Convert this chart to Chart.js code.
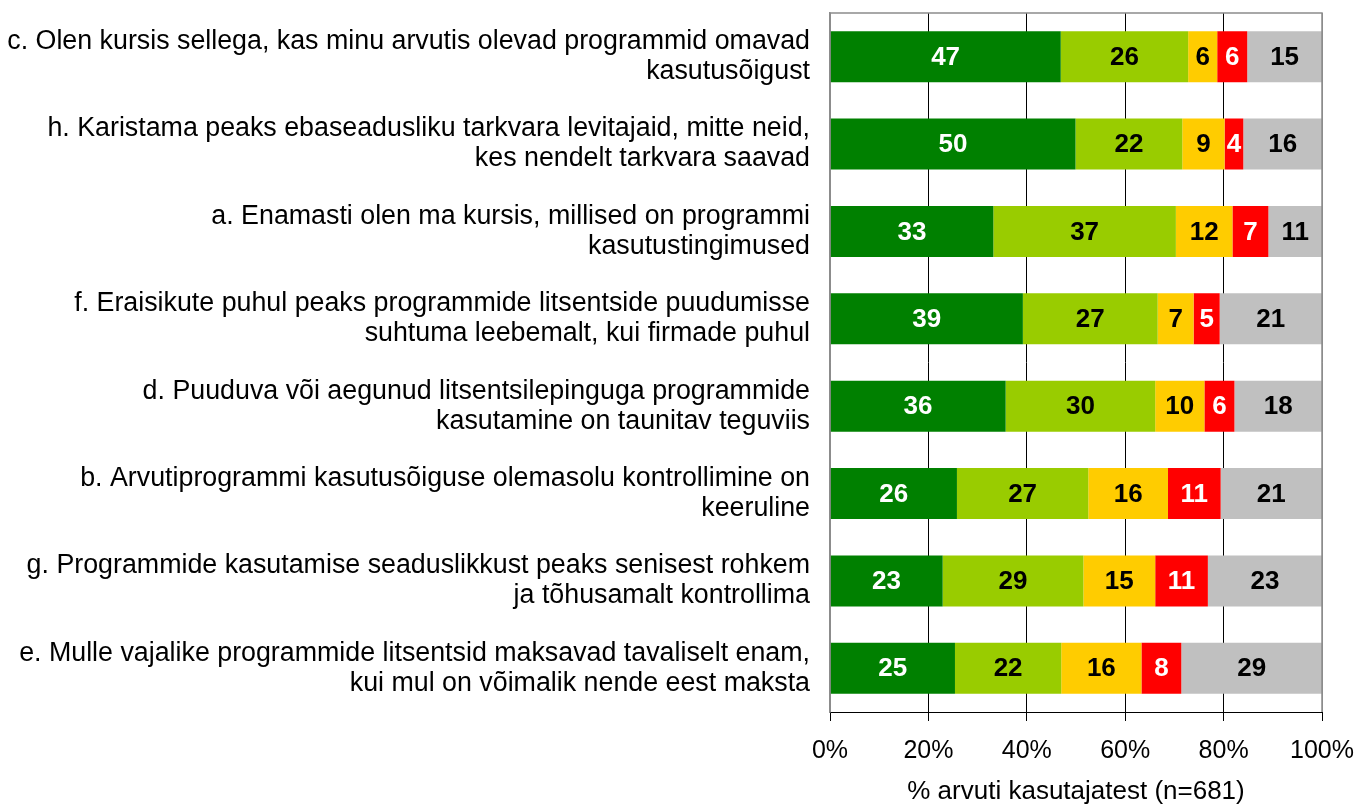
<!DOCTYPE html>
<html>
<head>
<meta charset="utf-8">
<script src="https://cdn.jsdelivr.net/npm/chart.js@4.4.1/dist/chart.umd.min.js"></script>
<style>
  html, body { margin: 0; padding: 0; background: #fff; }
</style>
</head>
<body>
<canvas id="chart" width="1359" height="805"></canvas>
<script>
const categories = [
  ["c. Olen kursis sellega, kas minu arvutis olevad programmid omavad", "kasutusõigust"],
  ["h. Karistama peaks ebaseadusliku tarkvara levitajaid, mitte neid,", "kes nendelt tarkvara saavad"],
  ["a. Enamasti olen ma kursis, millised on programmi", "kasutustingimused"],
  ["f. Eraisikute puhul peaks programmide litsentside puudumisse", "suhtuma leebemalt, kui firmade puhul"],
  ["d. Puuduva või aegunud litsentsilepinguga programmide", "kasutamine on taunitav teguviis"],
  ["b. Arvutiprogrammi kasutusõiguse olemasolu kontrollimine on", "keeruline"],
  ["g. Programmide kasutamise seaduslikkust peaks senisest rohkem", "ja tõhusamalt kontrollima"],
  ["e. Mulle vajalike programmide litsentsid maksavad tavaliselt enam,", "kui mul on võimalik nende eest maksta"]
];
const seriesNames = ["Täiesti nõus", "Pigem nõus", "Pigem ei ole nõus", "Üldse ei ole nõus", "Ei oska öelda"];
const fullyAgree    = [46.9, 49.9, 33.2, 39.2, 35.7, 25.8, 22.9, 25.4];
const ratherAgree   = [25.9, 21.7, 37.1, 27.4, 30.4, 26.7, 28.6, 21.6];
const ratherNot     = [5.9, 8.6, 11.5, 7.3, 10.0, 16.2, 14.6, 16.3];
const notAtAll      = [6.1, 3.8, 7.3, 5.3, 6.1, 10.7, 10.7, 8.1];
const cannotSay     = [15.2, 16.0, 10.9, 20.8, 17.8, 20.6, 23.2, 28.6];
const xTicks = [0, 20, 40, 60, 80, 100];

const colors = ["#008000", "#99CC00", "#FFCC00", "#FF0000", "#C0C0C0"];
const labelColors = ["#FFFFFF", "#000000", "#000000", "#FFFFFF", "#000000"];
const FONT = "'Liberation Sans', Arial, sans-serif";

// numbers in the middle of every segment
const segLabels = {
  id: "segLabels",
  afterDatasetsDraw(chart) {
    const ctx = chart.ctx;
    ctx.save();
    ctx.font = "bold 26px " + FONT;
    ctx.textAlign = "center";
    ctx.textBaseline = "middle";
    chart.data.datasets.forEach((ds, i) => {
      chart.getDatasetMeta(i).data.forEach((bar, j) => {
        ctx.fillStyle = labelColors[i];
        ctx.fillText(String(Math.round(ds.data[j])), (bar.x + bar.base) / 2, bar.y + 1);
      });
    });
    ctx.restore();
  }
};

// grey frame round the plot area
const frame = {
  id: "frame",
  afterDraw(chart) {
    const { ctx, chartArea: a } = chart;
    ctx.save();
    ctx.strokeStyle = "#8C8C8C";
    ctx.lineWidth = 1.5;
    ctx.beginPath();
    ctx.moveTo(a.left, a.bottom);
    ctx.lineTo(a.left, a.top);
    ctx.lineTo(a.right, a.top);
    ctx.lineTo(a.right, a.bottom);
    ctx.stroke();
    ctx.restore();
  }
};

const series = [fullyAgree, ratherAgree, ratherNot, notAtAll, cannotSay];

new Chart(document.getElementById("chart"), {
  type: "bar",
  data: {
    labels: categories,
    datasets: series.map((d, i) => ({
      label: seriesNames[i], data: d, backgroundColor: colors[i],
      barPercentage: 0.585, categoryPercentage: 1
    }))
  },
  options: {
    indexAxis: "y",
    responsive: false,
    animation: false,
    devicePixelRatio: 1,
    layout: { padding: { top: 13, right: 37, left: 0, bottom: 0 } },
    plugins: { legend: { display: false }, tooltip: { enabled: false } },
    scales: {
      x: {
        stacked: true, min: 0, max: 100,
        afterBuildTicks: s => { s.ticks = xTicks.map(v => ({ value: v })); },
        afterFit: s => { s.height = 93; s.paddingLeft = 0; s.paddingRight = 0; },
        ticks: { callback: v => v + "%", color: "#000", padding: 15, maxRotation: 0,
          font: { family: FONT, size: 25 } },
        grid: {
          color: c => (c.tick && (c.tick.value === 0 || c.tick.value === 100)) ? "#8C8C8C" : "#000",
          tickColor: "#000", tickLength: 9, lineWidth: 1
        },
        border: { color: "#000", width: 1 },
        title: { display: true, text: "% arvuti kasutajatest (n=681)", color: "#000",
          font: { family: FONT, size: 26, lineHeight: 1 }, padding: { top: 0, bottom: 0 } }
      },
      y: {
        stacked: true,
        afterFit: s => { s.width = 830; s.paddingTop = 0; s.paddingBottom = 0; },
        ticks: { color: "#000", padding: 20, font: { family: FONT, size: 26.8, lineHeight: 1.12 } },
        grid: { display: false, drawTicks: false },
        border: { color: "#8C8C8C", width: 1.5 }
      }
    }
  },
  plugins: [segLabels, frame]
});
</script>
</body>
</html>
